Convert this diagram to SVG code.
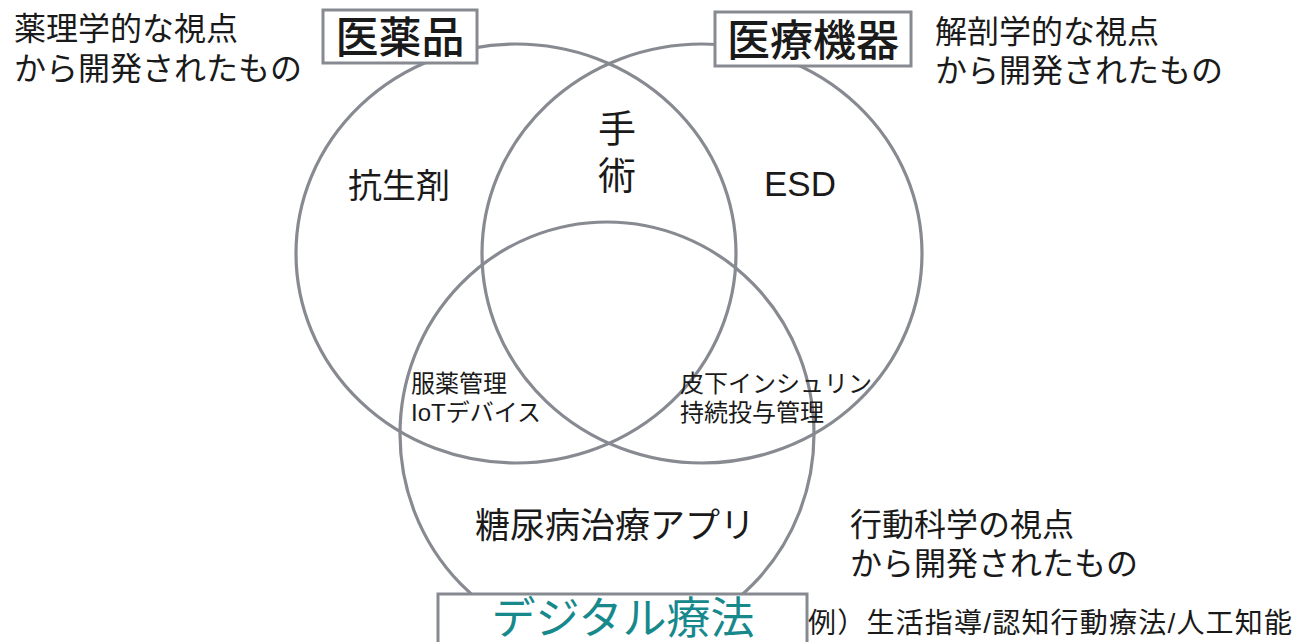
<svg xmlns="http://www.w3.org/2000/svg" width="1295" height="642" viewBox="0 0 1295 642">
  <style>
    .ring { fill: none; stroke: #878a91; stroke-width: 3.2; }
    .box { fill: #ffffff; stroke: #878a91; stroke-width: 3; }
    text { font-family: "Liberation Sans", "Noto Sans CJK JP", sans-serif; fill: #1a1a1a; }
    .title { font-size: 43px; text-anchor: middle; font-weight: 500; }
    .note { font-size: 32px; }
    .big { font-size: 34px; text-anchor: middle; }
    .small { font-size: 24px; }
    .teal { fill: #17898d; font-weight: 400; }
  </style>
  <rect width="1295" height="642" fill="#ffffff"/>

  <g id="connectors"></g>

  <g id="set-drug">
    <ellipse class="ring" cx="516" cy="253.5" rx="220" ry="209.5"/>
  </g>
  <g id="set-device">
    <ellipse class="ring" cx="702" cy="253.5" rx="220" ry="209.5"/>
  </g>
  <g id="set-digital">
    <ellipse class="ring" cx="607" cy="434" rx="207" ry="212"/>
  </g>

  <g id="label-drug">
    <rect class="box" x="323" y="10" width="154" height="53"/>
    <text class="title" x="400" y="53">医薬品</text>
  </g>
  <g id="label-device">
    <rect class="box" x="715" y="12" width="196" height="54"/>
    <text class="title" x="813" y="56">医療機器</text>
  </g>
  <g id="label-digital">
    <rect class="box" x="438" y="594" width="369" height="60"/>
    <text class="title teal" x="623" y="634" style="font-size:44px">デジタル療法</text>
  </g>

  <g id="note-drug">
    <text class="note" x="14" y="40">薬理学的な視点</text>
    <text class="note" x="14" y="80">から開発されたもの</text>
  </g>
  <g id="note-device">
    <text class="note" x="935" y="43">解剖学的な視点</text>
    <text class="note" x="935" y="82">から開発されたもの</text>
  </g>
  <g id="note-digital">
    <text class="note" x="850" y="536">行動科学の視点</text>
    <text class="note" x="850" y="575">から開発されたもの</text>
  </g>
  <g id="note-example">
    <text x="808" y="633" style="font-size:28px" textLength="484" lengthAdjust="spacing">例）生活指導/認知行動療法/人工知能</text>
  </g>

  <g id="item-antibiotic">
    <text class="big" x="399" y="198">抗生剤</text>
  </g>
  <g id="item-surgery">
    <text class="big" x="617" y="142" style="font-size:38px">手</text>
    <text class="big" x="617" y="189" style="font-size:38px">術</text>
  </g>
  <g id="item-esd">
    <text class="big" x="800" y="196" style="font-size:35px">ESD</text>
  </g>
  <g id="item-iot">
    <text class="small" x="411" y="392">服薬管理</text>
    <text class="small" x="411" y="421">IoTデバイス</text>
  </g>
  <g id="item-insulin">
    <text class="small" x="680" y="392">皮下インシュリン</text>
    <text class="small" x="680" y="421">持続投与管理</text>
  </g>
  <g id="item-app">
    <text class="big" x="615" y="538" style="font-size:35px">糖尿病治療アプリ</text>
  </g>
</svg>
